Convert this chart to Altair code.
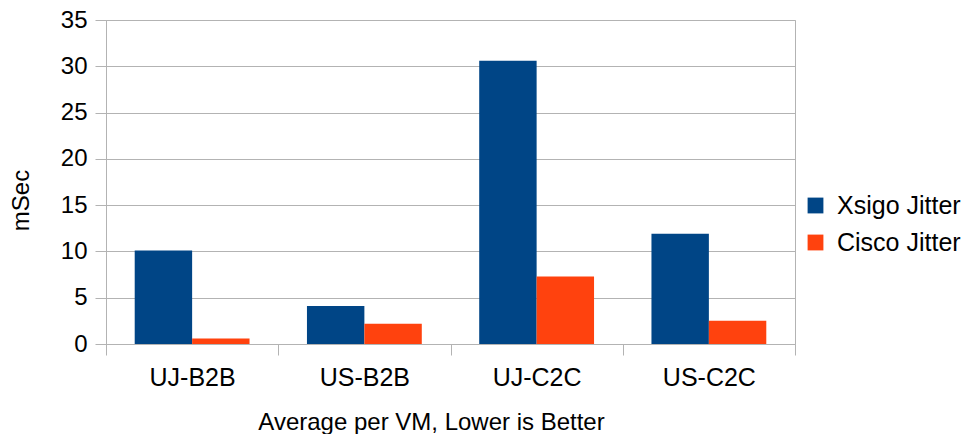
import altair as alt
import pandas as pd

categories = ["UJ-B2B", "US-B2B", "UJ-C2C", "US-C2C"]
series_names = ["Xsigo Jitter", "Cisco Jitter"]
xsigo = [10.1, 4.1, 30.6, 11.9]
cisco = [0.6, 2.2, 7.3, 2.5]
colors = ["#004586", "#ff420e"]

rows = []
for c, v in zip(categories, xsigo):
    rows.append({"cat": c, "series": series_names[0], "val": v})
for c, v in zip(categories, cisco):
    rows.append({"cat": c, "series": series_names[1], "val": v})
df = pd.DataFrame(rows)

font = "Liberation Sans"
grey = "#b3b3b3"

chart = alt.Chart(df).mark_bar().encode(
    x=alt.X("cat:N", sort=categories,
            scale=alt.Scale(paddingInner=0, paddingOuter=0),
            axis=alt.Axis(title="Average per VM, Lower is Better", labelAngle=0,
                          labelFontSize=25, labelFont=font, labelColor="#000000",
                          labelPadding=10, tickSize=11, tickBand="extent",
                          tickColor=grey, domainColor=grey,
                          titleFontSize=24, titleFont=font, titleFontWeight="normal",
                          titleColor="#000000", titleX=325, titleY=78,
                          titleBaseline="middle", grid=False)),
    xOffset=alt.XOffset("series:N", sort=series_names,
                        scale=alt.Scale(paddingInner=0, paddingOuter=0.5)),
    y=alt.Y("val:Q", scale=alt.Scale(domain=[0, 35]),
            axis=alt.Axis(title="mSec", values=[0, 5, 10, 15, 20, 25, 30, 35],
                          labelFontSize=24, labelFont=font, labelColor="#000000",
                          labelPadding=8, tickSize=11, tickColor=grey,
                          domainColor=grey, gridColor=grey,
                          titleFontSize=24, titleFont=font, titleFontWeight="normal",
                          titleColor="#000000", titleX=-85, titleY=180,
                          titleBaseline="middle", titleAngle=-90)),
    color=alt.Color("series:N", sort=series_names,
                    scale=alt.Scale(domain=series_names, range=colors),
                    legend=alt.Legend(title=None, orient="none", legendX=697, legendY=173,
                                      symbolType="square", symbolSize=250,
                                      symbolStrokeWidth=0, labelFontSize=25,
                                      labelFont=font, labelColor="#000000",
                                      labelLimit=0,
                                      rowPadding=11, labelOffset=9)),
).properties(
    width=689, height=324,
    autosize=alt.AutoSizeParams(type="none"),
    padding={"left": 98, "top": 12, "right": 166, "bottom": 90},
).configure_view(stroke=grey, strokeWidth=1)

chart.save("out.html", embed_options={"renderer": "svg", "actions": False})
